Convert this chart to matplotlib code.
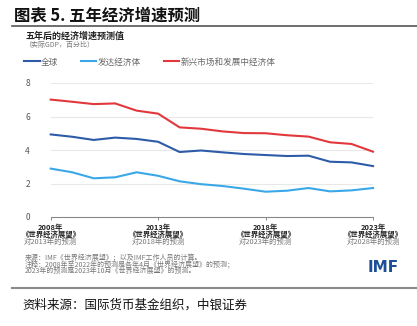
import matplotlib.pyplot as plt
from matplotlib.lines import Line2D
from matplotlib.transforms import blended_transform_factory

plt.rcParams['font.family'] = ['Noto Sans CJK SC', 'DejaVu Sans']

years = [2008, 2009, 2010, 2011, 2012, 2013, 2014, 2015,
         2016, 2017, 2018, 2019, 2020, 2021, 2022, 2023]
world = [4.93, 4.79, 4.60, 4.74, 4.66, 4.49, 3.88, 3.97,
         3.86, 3.76, 3.70, 3.64, 3.66, 3.30, 3.26, 3.04]
advanced = [2.89, 2.67, 2.31, 2.37, 2.67, 2.46, 2.13, 1.96,
            1.85, 1.69, 1.51, 1.57, 1.73, 1.53, 1.59, 1.73]
emerging = [7.01, 6.88, 6.74, 6.78, 6.35, 6.17, 5.35, 5.27,
            5.11, 5.01, 5.00, 4.88, 4.80, 4.46, 4.36, 3.90]

series_names = ['全球', '发达经济体', '新兴市场和发展中经济体']
colors = ['#2d5ba8', '#3aa8e8', '#e2383c']

tick_years = [2008, 2013, 2018, 2023]
tick_line1 = ['2008年', '2013年', '2018年', '2023年']
tick_line2 = ['《世界经济展望》'] * 4
tick_line3 = ['对2013年的预测', '对2018年的预测', '对2023年的预测', '对2028年的预测']

W, H = 417, 326
fig = plt.figure(figsize=(W / 100, H / 100), dpi=100)


def fy(py):
    return 1 - py / H


def fx(px):
    return px / W


# header
fig.text(fx(14), fy(15), '图表 5. 五年经济增速预测', fontsize=11.8, fontweight='bold',
         color='#111111', va='center', ha='left')
fig.add_artist(Line2D([fx(12), 1], [fy(25.5), fy(25.5)], color='#555555', lw=1.2))

fig.text(fx(25), fy(36.5), '五年后的经济增速预测值', fontsize=6.5, fontweight='bold',
         color='#222222', va='center')
fig.text(fx(24), fy(45), '（实际GDP，百分比）', fontsize=5.0, color='#777777', va='center')

ax = fig.add_axes([fx(50.7), fy(217), fx(373) - fx(50.7), fy(83) - fy(217)])

for vals, c, name in zip([world, advanced, emerging], colors, series_names):
    ax.plot(years, vals, color=c, lw=1.5, label=name, clip_on=False, zorder=3)

ax.set_xlim(2008, 2023)
ax.set_ylim(0, 8)
ax.set_yticks([0, 2, 4, 6, 8])
ax.set_yticklabels(['0', '2', '4', '6', '8'])
for gy in [2, 4, 6, 8]:
    ax.axhline(gy, color='#e8e8e8', lw=0.8, zorder=1)
for s in ['top', 'right', 'left']:
    ax.spines[s].set_visible(False)
ax.spines['bottom'].set_color('#888888')
ax.spines['bottom'].set_linewidth(0.8)
ax.tick_params(axis='y', length=0, pad=15, labelsize=6, labelcolor='#555555')
ax.set_xticks(tick_years)
ax.set_xticklabels([''] * 4)
ax.tick_params(axis='x', length=2.5, width=0.7, color='#888888', direction='out')

tr = blended_transform_factory(ax.transData, fig.transFigure)
for x, a, b, c in zip(tick_years, tick_line1, tick_line2, tick_line3):
    ax.text(x, fy(227), a, transform=tr, ha='center', va='center', fontsize=5.4,
            fontweight='bold', color='#222222')
    ax.text(x, fy(234.6), b, transform=tr, ha='center', va='center', fontsize=5.3,
            fontweight='bold', color='#222222')
    ax.text(x, fy(242.2), c, transform=tr, ha='center', va='center', fontsize=5.3,
            color='#777777')

fig.legend(loc='center left', bbox_to_anchor=(fx(24), fy(62)), ncol=3, frameon=False,
           fontsize=6.2, labelcolor='#666666', handlelength=1.8, handletextpad=0.2,
           columnspacing=2.6, borderpad=0, borderaxespad=0)

notes = ['来源：IMF《世界经济展望》；以及IMF工作人员的计算。',
         '注释：2008年至2022年的预测是各年4月《世界经济展望》的预测；',
         '2023年的预测是2023年10月《世界经济展望》的预测。']
for i, line in enumerate(notes):
    fig.text(fx(25), fy(257 + i * 7.2), line, fontsize=5.0, color='#777777', va='center')

fig.text(fx(383), fy(268), 'IMF', fontsize=11, fontweight='bold', color='#1d4f96',
         family='DejaVu Sans', ha='center', va='center')

fig.add_artist(Line2D([fx(12), 1], [fy(287.5), fy(287.5)], color='#8a8a8a', lw=1.5))
fig.text(fx(22), fy(305), '资料来源：国际货币基金组织，中银证券', fontsize=9,
         color='#111111', va='center', style='italic')

fig.savefig('out.png', dpi=100)
